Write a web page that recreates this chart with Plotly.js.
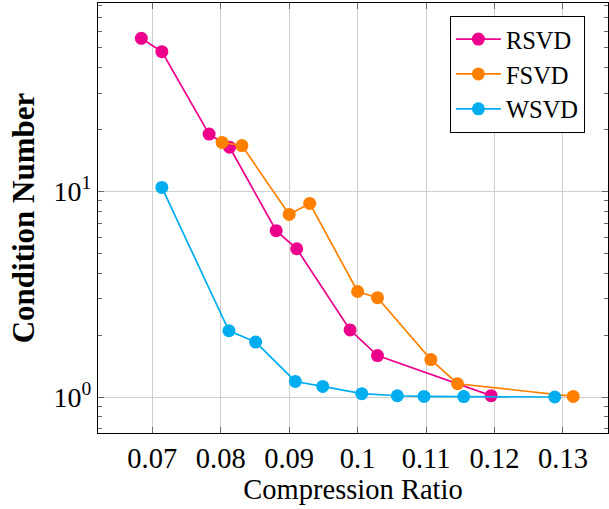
<!DOCTYPE html>
<html><head><meta charset="utf-8">
<script src="https://cdn.plot.ly/plotly-3.0.1.min.js"></script>
<style>body{margin:0;padding:0;background:#fff}#chart{width:609px;height:509px}</style>
</head><body><div id="chart"></div>
<script>
const rsvdX = [0.0684, 0.0714, 0.0783, 0.0813, 0.0881, 0.0911, 0.0989, 0.1029, 0.1195];
const rsvdY = [55.5, 47.8, 19.0, 16.4, 6.44, 5.26, 2.12, 1.59, 1.015];
const fsvdX = [0.0802, 0.0831, 0.0900, 0.0930, 0.1000, 0.1029, 0.1107, 0.1146, 0.1315];
const fsvdY = [17.3, 16.7, 7.73, 8.74, 3.26, 3.04, 1.52, 1.16, 1.007];
const wsvdX = [0.0714, 0.0812, 0.0851, 0.0909, 0.0949, 0.1006, 0.1058, 0.1097, 0.1155, 0.1288];
const wsvdY = [10.45, 2.10, 1.85, 1.19, 1.126, 1.038, 1.014, 1.007, 1.005, 1.0];
const xTicks = [0.07, 0.08, 0.09, 0.10, 0.11, 0.12, 0.13];
const xTickLabels = ['0.07', '0.08', '0.09', '0.1', '0.11', '0.12', '0.13'];
const yTicks = [1, 10];
const yTickLabels = ['10<sup>0</sup>', '10<sup>1</sup>'];

const FONT = '"Liberation Serif", "DejaVu Serif", serif';
function tr(name, x, y, color) {
  return {x, y, name, type: 'scatter', mode: 'lines+markers',
    line: {color, width: 1.7}, marker: {color, size: 13}};
}
const data = [
  tr('RSVD', rsvdX, rsvdY, '#EC008C'),
  tr('FSVD', fsvdX, fsvdY, '#FF8000'),
  tr('WSVD', wsvdX, wsvdY, '#00AEEF')
];
const layout = {
  width: 609, height: 509,
  margin: {l: 97.5, r: 0.5, t: 3.3, b: 75.7},
  paper_bgcolor: '#fff', plot_bgcolor: '#fff',
  font: {family: FONT, color: '#000', size: 25},
  showlegend: true,
  legend: {x: 0.69, y: 0.9705, xanchor: 'left', yanchor: 'top',
    bordercolor: '#000', borderwidth: 1, bgcolor: '#fff', itemwidth: 45,
    font: {family: FONT, size: 24.5}, tracegroupgap: 0},
  xaxis: {
    range: [0.06207, 0.13658],
    tickvals: xTicks, ticktext: xTickLabels,
    ticks: 'inside', ticklen: 6, tickcolor: '#666', tickwidth: 1,
    showgrid: true, gridcolor: '#cfcfcf', gridwidth: 1,
    showline: true, linecolor: '#000', linewidth: 1, mirror: 'ticks',
    zeroline: false,
    tickfont: {family: FONT, size: 28.5},
    title: {text: 'Compression Ratio', font: {family: FONT, size: 28.5}, standoff: 5}
  },
  yaxis: {
    type: 'log',
    range: [-0.1751, 1.9163],
    tickvals: yTicks, ticktext: yTickLabels,
    ticks: 'inside', ticklen: 6, tickcolor: '#666', tickwidth: 1,
    minor: {ticks: 'inside', ticklen: 4, tickcolor: '#666', showgrid: false,
      tickvals: [0.7,0.8,0.9,2,3,4,5,6,7,8,9,20,30,40,50,60,70,80]},
    showgrid: true, gridcolor: '#cfcfcf', gridwidth: 1,
    showline: true, linecolor: '#000', linewidth: 1, mirror: 'ticks',
    zeroline: false,
    tickfont: {family: FONT, size: 28},
    title: {text: '<b>Condition Number</b>', font: {family: FONT, size: 31}, standoff: 9}
  }
};
Plotly.newPlot('chart', data, layout, {displayModeBar: false, staticPlot: true});
</script></body></html>
